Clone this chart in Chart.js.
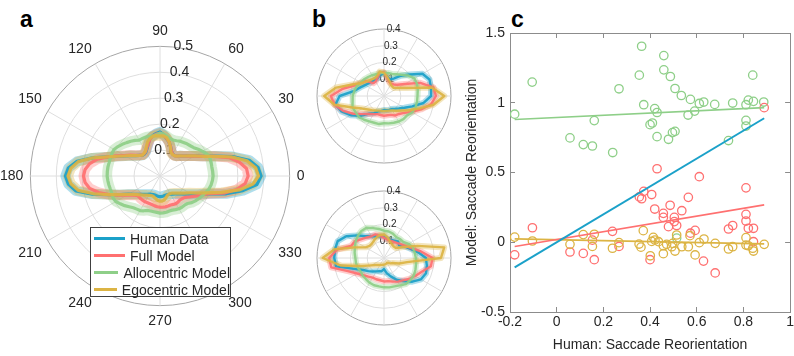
<!DOCTYPE html>
<html>
<head>
<meta charset="utf-8">
<script src="https://cdn.jsdelivr.net/npm/chart.js@4.4.1/dist/chart.umd.min.js"></script>
<style>
  body { margin: 0; width: 794px; height: 356px; background: #fff; position: relative; overflow: hidden;
         font-family: "Liberation Sans", Arial, Helvetica, sans-serif; }
  canvas { position: absolute; }
  .tag { position: absolute; font-weight: bold; font-size: 23px; line-height: 23px; color: #000; }
  #legendA { position: absolute; left: 90px; top: 227px; width: 141px; height: 70px; background: #fff;
             border: 1px solid #404040; box-sizing: border-box; padding-top: 2px; font-size: 14px; color: #262626; }
  #legendA .row { height: 17px; display: flex; align-items: center; white-space: nowrap; }
  #legendA .sw { width: 31px; height: 3px; margin-left: 3px; margin-right: 5px; }
</style>
</head>
<body>
<div class="tag" style="left:20px;top:8px">a</div>
<div class="tag" style="left:312px;top:8px">b</div>
<div class="tag" style="left:511px;top:8px">c</div>

<canvas id="polarA" width="321" height="352" style="left:0;top:0"></canvas>
<canvas id="polarB1" width="148" height="148" style="left:310px;top:22px"></canvas>
<canvas id="polarB2" width="148" height="148" style="left:310px;top:184px"></canvas>
<canvas id="scatterC" width="341" height="356" style="left:460px;top:0"></canvas>

<div id="legendA">
  <div class="row"><span class="sw" style="background:#1ba1c9"></span>Human Data</div>
  <div class="row"><span class="sw" style="background:#ff7070"></span>Full Model</div>
  <div class="row"><span class="sw" style="background:#8ecf88"></span>Allocentric Model</div>
  <div class="row"><span class="sw" style="background:#dcb444"></span>Egocentric Model</div>
</div>

<script>
// ---------- panel a: polar profiles, angle in degrees (0 = right, counter-clockwise), 5 deg steps ----------
const thetaA = [0, 5, 10, 15, 20, 25, 30, 35, 40, 45, 50, 55, 60, 65, 70, 75, 80, 85,
  90, 95, 100, 105, 110, 115, 120, 125, 130, 135, 140, 145, 150, 155, 160, 165, 170, 175,
  180, 185, 190, 195, 200, 205, 210, 215, 220, 225, 230, 235, 240, 245, 250, 255, 260, 265,
  270, 275, 280, 285, 290, 295, 300, 305, 310, 315, 320, 325, 330, 335, 340, 345, 350, 355];

const humanA = [0.39, 0.38, 0.35, 0.29, 0.225, 0.18, 0.155, 0.135, 0.12, 0.11, 0.10, 0.097, 0.098, 0.105, 0.12, 0.135, 0.147, 0.16,
  0.17, 0.165, 0.158, 0.15, 0.132, 0.118, 0.108, 0.104, 0.104, 0.112, 0.122, 0.138, 0.155, 0.18, 0.215, 0.27, 0.325, 0.355,
  0.365, 0.355, 0.33, 0.27, 0.21, 0.17, 0.14, 0.123, 0.11, 0.10, 0.092, 0.086, 0.081, 0.078, 0.076, 0.076, 0.077, 0.079,
  0.08, 0.079, 0.078, 0.077, 0.077, 0.078, 0.08, 0.085, 0.09, 0.098, 0.108, 0.122, 0.14, 0.165, 0.20, 0.265, 0.325, 0.375];

const fullA = [0.34, 0.335, 0.31, 0.275, 0.222, 0.18, 0.154, 0.134, 0.12, 0.109, 0.10, 0.096, 0.098, 0.105, 0.12, 0.135, 0.147, 0.158,
  0.165, 0.162, 0.156, 0.148, 0.132, 0.12, 0.11, 0.106, 0.106, 0.113, 0.124, 0.14, 0.158, 0.183, 0.215, 0.25, 0.275, 0.29,
  0.295, 0.29, 0.275, 0.245, 0.21, 0.175, 0.148, 0.128, 0.116, 0.114, 0.115, 0.115, 0.115, 0.114, 0.114, 0.115, 0.117, 0.119,
  0.12, 0.121, 0.121, 0.12, 0.119, 0.121, 0.123, 0.122, 0.12, 0.123, 0.128, 0.14, 0.155, 0.175, 0.20, 0.255, 0.30, 0.33];

const alloA = [0.205, 0.204, 0.203, 0.204, 0.205, 0.20, 0.19, 0.18, 0.17, 0.165, 0.162, 0.158, 0.155, 0.15, 0.148, 0.15, 0.156, 0.162,
  0.165, 0.16, 0.156, 0.158, 0.16, 0.16, 0.16, 0.168, 0.175, 0.182, 0.19, 0.198, 0.205, 0.205, 0.204, 0.203, 0.204, 0.204,
  0.204, 0.202, 0.20, 0.198, 0.197, 0.20, 0.197, 0.187, 0.178, 0.168, 0.16, 0.156, 0.154, 0.148, 0.141, 0.14, 0.14, 0.141,
  0.143, 0.143, 0.142, 0.14, 0.14, 0.143, 0.146, 0.147, 0.147, 0.15, 0.16, 0.167, 0.173, 0.18, 0.187, 0.195, 0.20, 0.203];

const egoA = [0.38, 0.37, 0.34, 0.285, 0.222, 0.18, 0.155, 0.135, 0.12, 0.11, 0.10, 0.096, 0.096, 0.10, 0.118, 0.136, 0.15, 0.155,
  0.155, 0.156, 0.156, 0.15, 0.14, 0.125, 0.112, 0.107, 0.105, 0.112, 0.122, 0.138, 0.155, 0.18, 0.215, 0.27, 0.32, 0.345,
  0.355, 0.345, 0.32, 0.265, 0.21, 0.17, 0.142, 0.124, 0.112, 0.103, 0.096, 0.09, 0.086, 0.083, 0.082, 0.085, 0.09, 0.095,
  0.097, 0.097, 0.094, 0.087, 0.081, 0.078, 0.078, 0.081, 0.086, 0.093, 0.102, 0.115, 0.13, 0.155, 0.19, 0.245, 0.31, 0.36];

// ---------- panel b: two example profiles, 10 deg steps ----------
const thetaB = [0, 10, 20, 30, 40, 50, 60, 70, 80, 90, 100, 110, 120, 130, 140, 150, 160, 170,
  180, 190, 200, 210, 220, 230, 240, 250, 260, 270, 280, 290, 300, 310, 320, 330, 340, 350];

const humanB1 = [0.281, 0.285, 0.289, 0.265, 0.20, 0.158, 0.122, 0.105, 0.117, 0.135, 0.128, 0.112, 0.11, 0.113, 0.118, 0.13, 0.15, 0.18,
  0.265, 0.294, 0.27, 0.23, 0.184, 0.138, 0.118, 0.097, 0.09, 0.084, 0.086, 0.088, 0.09, 0.10, 0.116, 0.14, 0.18, 0.24];
const fullB1 = [0.31, 0.30, 0.23, 0.143, 0.105, 0.09, 0.085, 0.09, 0.11, 0.14, 0.14, 0.115, 0.10, 0.10, 0.14, 0.16, 0.185, 0.25,
  0.317, 0.30, 0.26, 0.212, 0.168, 0.14, 0.125, 0.115, 0.115, 0.118, 0.117, 0.12, 0.134, 0.14, 0.157, 0.19, 0.235, 0.285];
const alloB1 = [0.20, 0.205, 0.21, 0.21, 0.19, 0.165, 0.15, 0.14, 0.14, 0.135, 0.14, 0.138, 0.143, 0.148, 0.155, 0.16, 0.172, 0.18,
  0.187, 0.19, 0.20, 0.195, 0.195, 0.185, 0.175, 0.17, 0.17, 0.163, 0.166, 0.17, 0.176, 0.18, 0.18, 0.195, 0.20, 0.20];
const egoB1 = [0.36, 0.29, 0.14, 0.095, 0.075, 0.075, 0.08, 0.095, 0.115, 0.14, 0.148, 0.125, 0.12, 0.125, 0.135, 0.155, 0.20, 0.29,
  0.357, 0.30, 0.20, 0.15, 0.125, 0.11, 0.10, 0.093, 0.09, 0.09, 0.09, 0.093, 0.10, 0.115, 0.135, 0.17, 0.22, 0.30];

const humanB2 = [0.25, 0.205, 0.165, 0.14, 0.118, 0.13, 0.12, 0.117, 0.117, 0.13, 0.132, 0.138, 0.15, 0.17, 0.21, 0.26, 0.294, 0.297,
  0.297, 0.29, 0.19, 0.143, 0.122, 0.105, 0.092, 0.084, 0.08, 0.066, 0.092, 0.117, 0.15, 0.18, 0.22, 0.255, 0.267, 0.26];
const fullB2 = [0.29, 0.224, 0.174, 0.146, 0.129, 0.118, 0.112, 0.11, 0.112, 0.12, 0.135, 0.15, 0.15, 0.16, 0.175, 0.20, 0.21, 0.285,
  0.327, 0.32, 0.23, 0.185, 0.16, 0.145, 0.135, 0.135, 0.135, 0.14, 0.14, 0.149, 0.163, 0.175, 0.195, 0.215, 0.24, 0.284];
const alloB2 = [0.19, 0.186, 0.183, 0.17, 0.15, 0.148, 0.145, 0.155, 0.161, 0.163, 0.176, 0.19, 0.209, 0.21, 0.204, 0.196, 0.185, 0.178,
  0.171, 0.17, 0.168, 0.161, 0.165, 0.166, 0.171, 0.173, 0.172, 0.175, 0.178, 0.18, 0.189, 0.203, 0.205, 0.207, 0.20, 0.194];
const egoB2 = [0.34, 0.365, 0.212, 0.131, 0.093, 0.09, 0.095, 0.105, 0.125, 0.14, 0.14, 0.13, 0.12, 0.112, 0.112, 0.127, 0.186, 0.30,
  0.366, 0.26, 0.14, 0.088, 0.065, 0.055, 0.048, 0.044, 0.041, 0.04, 0.038, 0.036, 0.035, 0.037, 0.05, 0.06, 0.095, 0.14];

// ---------- panel c: reorientation, human (x) vs model (y) ----------
const alloX = [-0.18, -0.105, 0.057, 0.114, 0.153, 0.161, 0.24, 0.267, 0.354, 0.364, 0.373, 0.40, 0.41, 0.42, 0.43, 0.43,
  0.459, 0.459, 0.487, 0.479, 0.496, 0.507, 0.507, 0.534, 0.573, 0.563, 0.591, 0.611, 0.63, 0.677, 0.736, 0.754,
  0.811, 0.811, 0.811, 0.821, 0.843, 0.84, 0.887, 0.514];
const alloY = [0.918, 1.148, 0.748, 0.70, 0.69, 0.872, 0.643, 1.10, 1.198, 1.405, 0.986, 0.843, 0.855, 0.958, 0.93, 0.757,
  1.338, 1.236, 1.188, 0.738, 0.786, 0.795, 1.102, 1.052, 1.024, 0.912, 0.94, 0.995, 1.005, 0.988, 0.729, 0.998,
  0.874, 0.833, 0.986, 1.019, 1.01, 1.198, 1.005, 0.03];

const fullX = [-0.18, -0.104, 0.057, 0.114, 0.153, 0.161, 0.239, 0.267, 0.354, 0.364, 0.373, 0.407, 0.42, 0.40, 0.43,
  0.457, 0.457, 0.486, 0.479, 0.504, 0.504, 0.514, 0.536, 0.564, 0.573, 0.593, 0.611, 0.629, 0.679, 0.736, 0.754,
  0.811, 0.811, 0.811, 0.821, 0.843, 0.843, 0.889];
const fullY = [-0.09, 0.104, -0.07, -0.08, 0.015, -0.125, 0.078, -0.03, 0.325, 0.312, 0.365, 0.342, 0.238, -0.125, 0.527,
  0.207, 0.178, 0.265, 0.112, 0.178, 0.148, 0.12, 0.226, 0.322, 0.065, 0.085, 0.47, -0.135, -0.22, 0.095, 0.12,
  0.39, 0.20, 0.152, 0.10, 0.10, 0.004, 0.965];

const egoX = [-0.18, -0.104, 0.057, 0.114, 0.153, 0.161, 0.239, 0.267, 0.353, 0.361, 0.371, 0.401, 0.407, 0.414, 0.421,
  0.436, 0.457, 0.457, 0.471, 0.493, 0.497, 0.507, 0.514, 0.536, 0.564, 0.571, 0.593, 0.611, 0.631, 0.679, 0.736,
  0.754, 0.811, 0.811, 0.821, 0.84, 0.843, 0.889];
const egoY = [0.037, 0.009, -0.015, 0.055, -0.03, 0.057, -0.043, -0.003, -0.013, -0.035, 0.083, -0.097, 0.006, 0.035, 0.016,
  0.004, -0.025, -0.082, -0.015, -0.032, -0.008, -0.063, 0.052, -0.032, -0.032, 0.047, -0.091, -0.003, 0.023, -0.008, -0.048,
  -0.032, 0.033, -0.02, -0.025, -0.043, -0.063, -0.015];

// fitted lines, end points
const fitX = [-0.18, 0.889];
const fitHumanY = [-0.18, 0.889];
const fitAlloY = [0.88, 0.965];
const fitFullY = [-0.03, 0.268];
const fitEgoY = [0.024, -0.012];

const COLORS = {
  human: [27, 161, 201],
  full: [255, 112, 112],
  allo: [142, 207, 136],
  ego: [220, 180, 68]
};
const rgba = (c, a) => `rgba(${c[0]},${c[1]},${c[2]},${a})`;

Chart.defaults.font.family = '"Liberation Sans", Arial, Helvetica, sans-serif';
Chart.defaults.color = '#262626';
Chart.defaults.animation = false;
Chart.defaults.plugins.legend.display = false;
Chart.defaults.plugins.tooltip.enabled = false;

// radar runs clockwise from the top, the data is counter-clockwise from the right
function toRadar(vals, step) {
  const n = vals.length;
  return vals.map((_, j) => vals[((90 / step - j) % n + n) % n]);
}

function radarSets(series, step, haloW, lineW) {
  const sets = [];
  series.forEach((s, k) => {
    const d = toRadar(s.values, step);
    sets.push({ label: s.label + ' band', data: d, borderColor: rgba(s.color, 0.35), borderWidth: haloW,
                pointRadius: 0, fill: false, borderJoinStyle: 'round', order: 20 - k });
    sets.push({ label: s.label, data: d, borderColor: rgba(s.color, 0.92), borderWidth: lineW,
                pointRadius: 0, fill: false, borderJoinStyle: 'round', order: 10 - k });
  });
  return sets;
}

function polarScale(max, fontSize, shift, every, showAngles) {
  return {
    min: 0, max: max, beginAtZero: true, startAngle: 0,
    ticks: {
      stepSize: 0.1, showLabelBackdrop: false, color: '#262626', font: { size: fontSize },
      callback: v => ' '.repeat(Math.round(v * shift)) + (v === 0 ? '0' : v.toFixed(1))
    },
    grid: { circular: true, lineWidth: 1,
            color: c => (c.tick && c.tick.value > max - 0.01 ? '#a6a6a6' : '#dedede') },
    angleLines: { color: '#dedede', lineWidth: c => (c.index % every === 0 ? 1 : 0) },
    pointLabels: {
      display: showAngles, padding: -2, color: '#262626', font: { size: 14 },
      callback: l => (l % 30 === 0 ? String(l) : '')
    }
  };
}

// move a polar canvas so that its centre lands on the wanted page point
function placeCentre(chart, cx, cy) {
  const s = chart.scales.r;
  chart.canvas.style.left = (cx - s.xCenter) + 'px';
  chart.canvas.style.top = (cy - s.yCenter) + 'px';
}

// panel a
const chartA = new Chart(document.getElementById('polarA'), {
  type: 'radar',
  data: {
    labels: toRadar(thetaA, 5),
    datasets: radarSets([
      { label: 'Human Data', color: COLORS.human, values: humanA },
      { label: 'Full Model', color: COLORS.full, values: fullA },
      { label: 'Allocentric Model', color: COLORS.allo, values: alloA },
      { label: 'Egocentric Model', color: COLORS.ego, values: egoA }
    ], 5, 10, 3.2)
  },
  options: {
    responsive: false,
    elements: { line: { tension: 0 } },
    scales: { r: polarScale(0.5, 14, 24, 6, true) }
  }
});
placeCentre(chartA, 160, 176);

// panel b
function smallPolar(id, h, f, a, e) {
  return new Chart(document.getElementById(id), {
    type: 'radar',
    data: {
      labels: toRadar(thetaB, 10),
      datasets: radarSets([
        { label: 'Human Data', color: COLORS.human, values: h },
        { label: 'Full Model', color: COLORS.full, values: f },
        { label: 'Allocentric Model', color: COLORS.allo, values: a },
        { label: 'Egocentric Model', color: COLORS.ego, values: e }
      ], 10, 6, 2.4)
    },
    options: {
      responsive: false,
      elements: { line: { tension: 0 } },
      scales: { r: polarScale(0.4, 10, 18, 3, false) }
    }
  });
}
placeCentre(smallPolar('polarB1', humanB1, fullB1, alloB1, egoB1), 384, 96);
placeCentre(smallPolar('polarB2', humanB2, fullB2, alloB2, egoB2), 384, 258);

// panel c
const pts = (xs, ys) => xs.map((x, i) => ({ x: x, y: ys[i] }));
const ringSet = (xs, ys, c) => ({ data: pts(xs, ys), borderColor: rgba(c, 1), backgroundColor: 'rgba(0,0,0,0)',
                                  pointRadius: 4.2, pointBorderWidth: 1.3 });
const fitSet = (ys, c, w) => ({ data: pts(fitX, ys), showLine: true, borderColor: rgba(c, 1), borderWidth: w,
                                pointRadius: 0, fill: false });
const AXIS_GRAY = '#8c8c8c';

new Chart(document.getElementById('scatterC'), {
  type: 'scatter',
  data: {
    datasets: [
      fitSet(fitHumanY, COLORS.human, 2),
      fitSet(fitAlloY, COLORS.allo, 1.6),
      fitSet(fitFullY, COLORS.full, 1.6),
      fitSet(fitEgoY, COLORS.ego, 1.8),
      ringSet(egoX, egoY, COLORS.ego),
      ringSet(fullX, fullY, COLORS.full),
      ringSet(alloX, alloY, COLORS.allo)
    ]
  },
  options: {
    responsive: false,
    layout: { padding: { top: 33, right: 4, left: 0, bottom: 0 } },
    scales: {
      x: {
        type: 'linear', position: 'bottom', min: -0.2, max: 1,
        ticks: { stepSize: 0.2, padding: 7, font: { size: 14 }, color: '#262626',
                 callback: v => String(+v.toFixed(2)) },
        grid: { drawOnChartArea: false, tickLength: -5, color: AXIS_GRAY },
        border: { color: AXIS_GRAY },
        title: { display: true, text: 'Human: Saccade Reorientation', font: { size: 14 }, padding: { top: 0, bottom: 2 } },
        afterFit: s => { s.height = 44; }
      },
      y: {
        type: 'linear', position: 'left', min: -0.5, max: 1.5,
        ticks: { stepSize: 0.5, padding: 10, font: { size: 14 }, color: '#262626',
                 callback: v => String(+v.toFixed(2)) },
        grid: { drawOnChartArea: false, tickLength: -5, color: AXIS_GRAY },
        border: { color: AXIS_GRAY },
        title: { display: true, text: 'Model: Saccade Reorientation', font: { size: 14 }, padding: { top: 4, bottom: 0 } },
        afterFit: s => { s.width = 50; }
      },
      x2: {
        type: 'linear', position: 'top', min: -0.2, max: 1,
        ticks: { stepSize: 0.2, display: false },
        grid: { drawOnChartArea: false, tickLength: -5, color: AXIS_GRAY },
        border: { color: AXIS_GRAY },
        afterFit: s => { s.height = 0; }
      },
      y2: {
        type: 'linear', position: 'right', min: -0.5, max: 1.5,
        ticks: { stepSize: 0.5, display: false },
        grid: { drawOnChartArea: false, tickLength: -5, color: AXIS_GRAY },
        border: { color: AXIS_GRAY },
        afterFit: s => { s.width = 0; }
      }
    }
  }
});
</script>
</body>
</html>
